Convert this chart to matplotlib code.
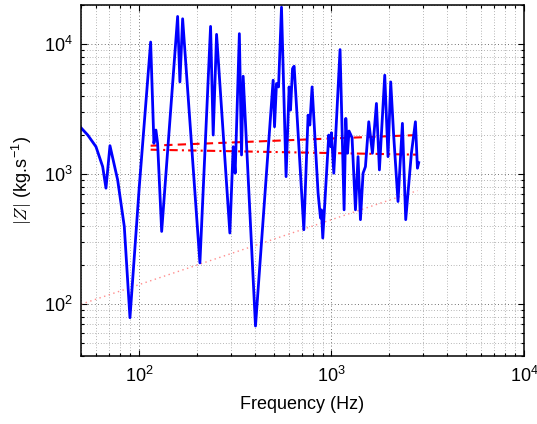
import matplotlib
matplotlib.use("Agg")
import matplotlib.pyplot as plt
from matplotlib.ticker import LogLocator, NullFormatter

plt.rcParams['font.family'] = ['Liberation Sans', 'DejaVu Sans']
plt.rcParams['mathtext.fontset'] = 'cm'

# Impedance magnitude |Z| vs frequency
freq = [50.0, 54.2, 59.8, 64.8, 67.4, 70.7, 77.5, 83.9, 89.8, 100.4,
        115, 119.6, 122.5, 125, 131.2, 158.8, 163.2, 168.6, 207.3, 235.5,
        243, 253, 296.6, 308.7, 316, 332.3, 341, 347.8, 403, 497.7,
        506, 518, 531, 550, 581, 602.6, 612.6, 627.6, 639.8, 718.4,
        756, 771.7, 793, 852, 877, 887, 901, 968, 992, 1000,
        1028, 1108, 1163, 1187, 1211, 1234, 1279, 1332, 1374, 1414,
        1459, 1501, 1562, 1632, 1712, 1774, 1891, 1966, 2031, 2106,
        2216, 2336, 2430, 2601, 2729, 2795, 2838]
Z = [2275, 2000, 1627, 1143, 781, 1656, 904, 397, 78.8, 803,
     10380, 1728, 2185, 1728, 363, 16330, 5124, 15670, 208, 13690,
     2000, 11890, 353, 1627, 1018, 12040, 1406, 5665, 68, 5280,
     2316, 4980, 4690, 19230, 958, 4690, 3110, 6487, 6760, 374,
     2846, 2387, 4690, 715, 460, 532, 323, 2000, 1627, 2084,
     1018, 9080, 532, 2686, 1449, 2147, 1908, 532, 1365, 447,
     1018, 1143, 2530, 1449, 3499, 1079, 5770, 1365, 5124, 1941,
     617, 2460, 447, 1449, 2530, 1112, 1227]

# Dashed reference lines
dash_freq = [115, 2800]
dash_Z = [1656, 2000]
dashdot_freq = [115, 2800]
dashdot_Z = [1543, 1413]

# Dotted (low) reference line
dot_freq = [50, 2800]
dot_Z = [100, 748]

fig = plt.figure(figsize=(5.37, 4.24), dpi=100)
ax = fig.add_axes([81/537, 1-356/424, (524-81)/537, (356-5)/424])

ax.plot(dot_freq, dot_Z, linestyle=(0, (1, 2.5)), color='#ff8c8c', linewidth=1.0)
ax.plot(dash_freq, dash_Z, linestyle=(0, (4, 2.5)), color='red', linewidth=1.5)
ax.plot(dashdot_freq, dashdot_Z, linestyle=(0, (4, 2, 1, 2)), color='red', linewidth=1.5)
ax.plot(freq, Z, color='blue', linewidth=2.0)

ax.set_xscale('log')
ax.set_yscale('log')
ax.set_xlim(50, 1e4)
ax.set_ylim(40, 2e4)

ax.xaxis.set_minor_locator(LogLocator(base=10, subs=range(2, 10)))
ax.yaxis.set_minor_locator(LogLocator(base=10, subs=range(2, 10)))
ax.xaxis.set_minor_formatter(NullFormatter())
ax.yaxis.set_minor_formatter(NullFormatter())

ax.grid(True, which='major', linestyle=(0, (1, 3)), color='0.25', linewidth=0.6)
ax.grid(True, which='minor', linestyle=(0, (1, 3)), color='0.45', linewidth=0.5)

ax.tick_params(which='both', direction='in', top=True, right=True, labelsize=13, width=0.8)
ax.tick_params(which='major', length=4)
ax.tick_params(which='minor', length=2)
ax.tick_params(axis='x', which='major', pad=7)
ax.tick_params(axis='y', which='major', pad=6)

for s in ax.spines.values():
    s.set_linewidth(1.1)

ax.set_xlabel('Frequency (Hz)', fontsize=13, labelpad=7)
ax.set_ylabel(r'$|Z|$ (kg.s$^{\mathdefault{-1}}$)', fontsize=13, labelpad=7)

fig.savefig('out.png', dpi=100)
